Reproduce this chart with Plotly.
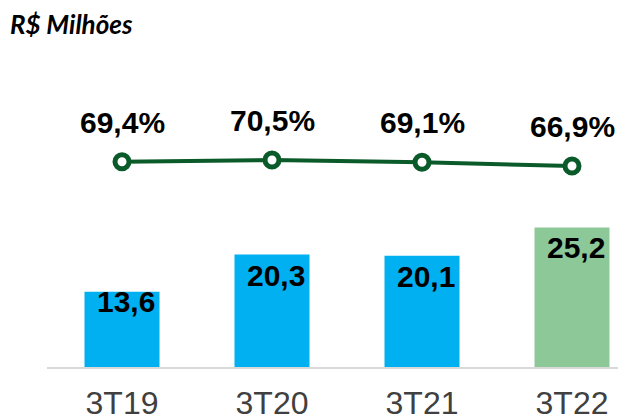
import plotly.graph_objects as go

categories = ["3T19", "3T20", "3T21", "3T22"]
bar_values = [13.6, 20.3, 20.1, 25.2]
bar_labels = ["13,6", "20,3", "20,1", "25,2"]
margin_pct = [69.4, 70.5, 69.1, 66.9]
margin_labels = ["69,4%", "70,5%", "69,1%", "66,9%"]

bar_colors = ["#00B0F0", "#00B0F0", "#00B0F0", "#8DC898"]
line_color = "#0B5B2A"
label_font = dict(family="Arial, Liberation Sans", size=30, color="#000000")
bar_label_yshift = [9, -2, -2, -2]

W, H = 618, 419
PLOT_H = 367             # baseline 52px above figure bottom

fig = go.Figure()
fig.add_trace(go.Bar(
    x=categories, y=bar_values, width=0.5,
    marker=dict(color=bar_colors, line=dict(width=0)),
    hoverinfo="skip", showlegend=False, yaxis="y",
))
fig.add_trace(go.Scatter(
    x=categories, y=margin_pct, mode="lines+markers",
    line=dict(color=line_color, width=4),
    marker=dict(size=14, color="white", line=dict(color=line_color, width=5)),
    hoverinfo="skip", showlegend=False, yaxis="y2",
))

annotations = []
for i, (c, v, t) in enumerate(zip(categories, bar_values, bar_labels)):
    annotations.append(dict(x=c, y=v, xref="x", yref="y", text="<b>%s</b>" % t,
                            showarrow=False, yanchor="top", xanchor="center",
                            xshift=4, yshift=bar_label_yshift[i], font=label_font))
for c, v, t in zip(categories, margin_pct, margin_labels):
    annotations.append(dict(x=c, y=v, xref="x", yref="y2", text="<b>%s</b>" % t,
                            showarrow=False, yanchor="bottom", xanchor="center",
                            yshift=21, font=label_font))

fig.update_layout(
    width=W, height=H,
    margin=dict(l=47, r=0, t=0, b=52, autoexpand=False),
    paper_bgcolor="white", plot_bgcolor="white",
    title=dict(text="<b><i>R$ Milhões</i></b>", x=10/W, xanchor="left",
               xref="container", yref="container", y=1 - 25/H, yanchor="middle",
               font=dict(family="Lato, Open Sans", size=26, color="#000000")),
    xaxis=dict(range=[-0.5, -0.5 + 571/150], showgrid=False, zeroline=False,
               showline=True, linecolor="#D9D9D9", linewidth=2, automargin=False,
               ticks="", ticklabelstandoff=7,
               tickfont=dict(family="Arial, Liberation Sans", size=32, color="#404040"),
               fixedrange=True),
    yaxis=dict(range=[0, PLOT_H/5.54], visible=False, showgrid=False, zeroline=False,
               automargin=False, fixedrange=True),
    yaxis2=dict(range=[-53.7, -53.7 + PLOT_H/1.667], overlaying="y", visible=False,
                showgrid=False, zeroline=False, automargin=False, fixedrange=True),
    annotations=annotations,
)

fig.write_html(
    "out.html",
    config={"displayModeBar": False, "staticPlot": True},
    post_script="document.body.style.margin='0';document.body.style.overflow='hidden';",
)
